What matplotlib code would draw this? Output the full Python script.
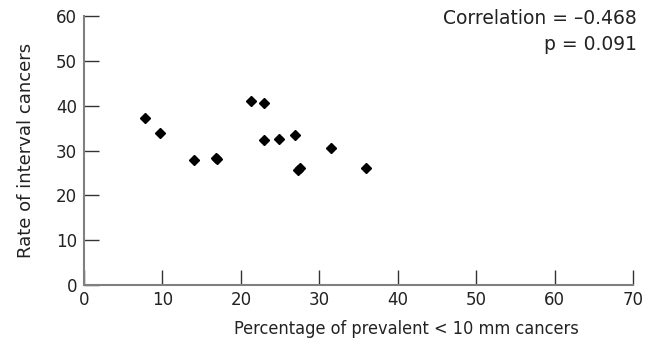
import matplotlib
matplotlib.use("Agg")
import matplotlib.pyplot as plt

# percentage of prevalent < 10 mm cancers vs rate of interval cancers
pct_small = [7.8, 9.7, 14.0, 16.8, 17.0, 21.3, 22.9, 22.9, 24.9, 26.9, 27.3, 27.6, 31.5, 35.9]
rate_interval = [37.3, 33.9, 27.8, 28.4, 28.0, 41.0, 40.7, 32.4, 32.6, 33.4, 25.7, 26.2, 30.6, 26.1]

xticks = [0, 10, 20, 30, 40, 50, 60, 70]
yticks = [0, 10, 20, 30, 40, 50, 60]

plt.rcParams['font.family'] = ['DejaVu Sans']
txt = '#222222'

fig = plt.figure(figsize=(6.64, 3.44), dpi=100)
ax = fig.add_axes([84/664, 59/344, 549/664, 269/344])

ax.plot(pct_small, rate_interval, linestyle='none', marker='D', markersize=5,
        color='black', clip_on=False)

ax.set_xlim(0, 70)
ax.set_ylim(0, 60)
ax.set_xticks(xticks)
ax.set_yticks(yticks)
ax.tick_params(direction='in', length=11, width=1, color='#333333',
               labelsize=12, colors=txt)
ax.tick_params(axis='x', pad=4)
ax.tick_params(axis='y', pad=5)

for s in ['top', 'right']:
    ax.spines[s].set_visible(False)
for s in ['left', 'bottom']:
    ax.spines[s].set_color('#808080')
    ax.spines[s].set_linewidth(1.5)

ax.set_xlabel('Percentage of prevalent < 10 mm cancers', fontsize=13,
              fontstretch='condensed', color=txt)
ax.xaxis.set_label_coords(322/549, -35/269)
ax.set_ylabel('Rate of interval cancers', fontsize=13, color=txt)
ax.yaxis.set_label_coords(-49/549, 0.5)

fig.text(637/664, 1 - 18/344, 'Correlation = \u20130.468', ha='right',
         va='center', fontsize=13.5, color=txt)
fig.text(637/664, 1 - 45/344, 'p = 0.091', ha='right', va='center',
         fontsize=13.5, color=txt)

fig.savefig('out.png', dpi=100)
